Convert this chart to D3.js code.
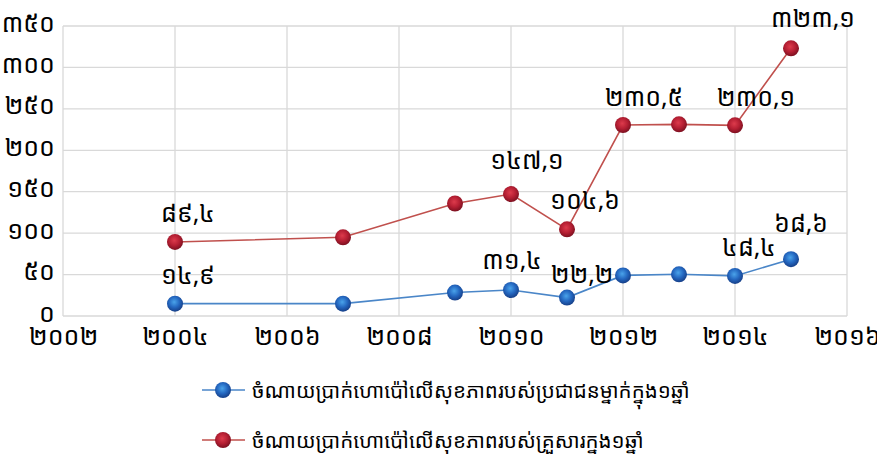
<!DOCTYPE html>
<html>
<head>
<meta charset="utf-8">
<script src="https://cdn.jsdelivr.net/npm/d3@7"></script>
<style>
  html, body { margin: 0; padding: 0; background: #fff; }
  svg text { font-family: "Noto Sans Khmer", "Khmer OS", "Noto Sans", sans-serif; fill: #000; }
</style>
</head>
<body>
<svg id="chart" width="877" height="454"></svg>
<script>
// Health spending per person and per household (years with surveys)
const years = [2004, 2007, 2009, 2010, 2011, 2012, 2013, 2014, 2015];
const perPerson = [14.9, 14.9, 28.3, 31.4, 22.2, 49.0, 50.3, 48.4, 68.6];
const perHousehold = [89.4, 95.0, 135.8, 147.1, 104.6, 230.5, 231.3, 230.1, 323.1];
const seriesNames = [
  "ចំណាយប្រាក់ហោប៉ៅលើសុខភាពរបស់ប្រជាជនម្នាក់ក្នុង១ឆ្នាំ",
  "ចំណាយប្រាក់ហោប៉ៅលើសុខភាពរបស់គ្រួសារក្នុង១ឆ្នាំ"
];
const xTicks = [2002, 2004, 2006, 2008, 2010, 2012, 2014, 2016];
const yTicks = [0, 50, 100, 150, 200, 250, 300, 350];
// which points carry a value label
const personLabelled = [2004, 2010, 2011, 2014, 2015];
const householdLabelled = [2004, 2010, 2011, 2012, 2014, 2015];

const khmerDigits = "០១២៣៤៥៦៧៨៩";
const toKhmer = s => String(s).replace(/[0-9]/g, d => khmerDigits[+d]).replace(".", ",");

const svg = d3.select("#chart");
const x = d3.scaleLinear().domain([2002, 2016]).range([63, 847]);
const y = d3.scaleLinear().domain([0, 350]).range([316, 26]);

const defs = svg.append("defs");
function sphere(id, c0, c1, c2) {
  const g = defs.append("radialGradient").attr("id", id)
    .attr("cx", "45%").attr("cy", "40%").attr("r", "60%");
  g.append("stop").attr("offset", "0%").attr("stop-color", c0);
  g.append("stop").attr("offset", "55%").attr("stop-color", c1);
  g.append("stop").attr("offset", "100%").attr("stop-color", c2);
}
sphere("gBlue", "#4aa3ea", "#2467c0", "#163f88");
sphere("gRed", "#dd3b4c", "#b51f33", "#7c1020");

// gridlines
const grid = svg.append("g");
grid.selectAll("line.h").data(yTicks).join("line")
  .attr("x1", x(2002)).attr("x2", x(2016))
  .attr("y1", d => y(d)).attr("y2", d => y(d))
  .attr("stroke", "#d9d9d9").attr("stroke-width", 1.3);
grid.selectAll("line.v").data(xTicks).join("line")
  .attr("y1", y(0)).attr("y2", y(350))
  .attr("x1", d => x(d)).attr("x2", d => x(d))
  .attr("stroke", "#d9d9d9").attr("stroke-width", 1.3);

// axes
const yAxis = d3.axisLeft(y).tickValues(yTicks).tickSize(0).tickPadding(8).tickFormat(toKhmer);
svg.append("g").attr("transform", `translate(${x(2002)},-3)`).call(yAxis)
  .call(g => g.select(".domain").remove())
  .selectAll("text").attr("font-size", 25).attr("font-family", null);
const xAxis = d3.axisBottom(x).tickValues(xTicks).tickSize(0).tickPadding(11).tickFormat(toKhmer);
svg.append("g").attr("transform", `translate(0,${y(0)})`).call(xAxis)
  .call(g => g.select(".domain").remove())
  .selectAll("text").attr("font-size", 25).attr("font-family", null);

function drawSeries(values, lineColor, grad) {
  const pts = years.map((yr, i) => ({ yr, v: values[i] }));
  svg.append("path").datum(pts)
    .attr("fill", "none").attr("stroke", lineColor).attr("stroke-width", 1.6)
    .attr("d", d3.line().x(d => x(d.yr)).y(d => y(d.v)));
  svg.append("g").selectAll("circle").data(pts).join("circle")
    .attr("cx", d => x(d.yr)).attr("cy", d => y(d.v)).attr("r", 8)
    .attr("fill", `url(#${grad})`);
  return pts;
}
const pp = drawSeries(perPerson, "#4a86c8", "gBlue");
const hh = drawSeries(perHousehold, "#c0504d", "gRed");

// value labels: offsets from the marker [dx, dy]
const personOffsets = { 2004: [13, -30], 2010: [1, -31], 2011: [15, -25], 2014: [14, -30], 2015: [10, -37] };
const householdOffsets = { 2004: [13, -30], 2010: [16, -35], 2011: [18, -30], 2012: [21, -29], 2014: [21, -29], 2015: [22, -31] };
function labels(pts, which, offsets) {
  svg.append("g").selectAll("text").data(pts.filter(p => which.includes(p.yr))).join("text")
    .attr("x", d => x(d.yr) + offsets[d.yr][0])
    .attr("y", d => y(d.v) + offsets[d.yr][1])
    .attr("text-anchor", "middle").attr("dominant-baseline", "central")
    .attr("font-size", 25)
    .text(d => toKhmer(d.v));
}
labels(pp, personLabelled, personOffsets);
labels(hh, householdLabelled, householdOffsets);

// legend
const legend = svg.append("g");
const legendRows = [
  { name: seriesNames[0], color: "#4a86c8", grad: "gBlue", y: 390 },
  { name: seriesNames[1], color: "#c0504d", grad: "gRed", y: 440 }
];
legendRows.forEach(r => {
  legend.append("line").attr("x1", 202).attr("x2", 245).attr("y1", r.y).attr("y2", r.y)
    .attr("stroke", r.color).attr("stroke-width", 1.6);
  legend.append("circle").attr("cx", 223).attr("cy", r.y).attr("r", 8).attr("fill", `url(#${r.grad})`);
  legend.append("text").attr("x", 252).attr("y", r.y).attr("dominant-baseline", "central")
    .attr("font-size", 20.5).text(r.name);
});
</script>
</body>
</html>
